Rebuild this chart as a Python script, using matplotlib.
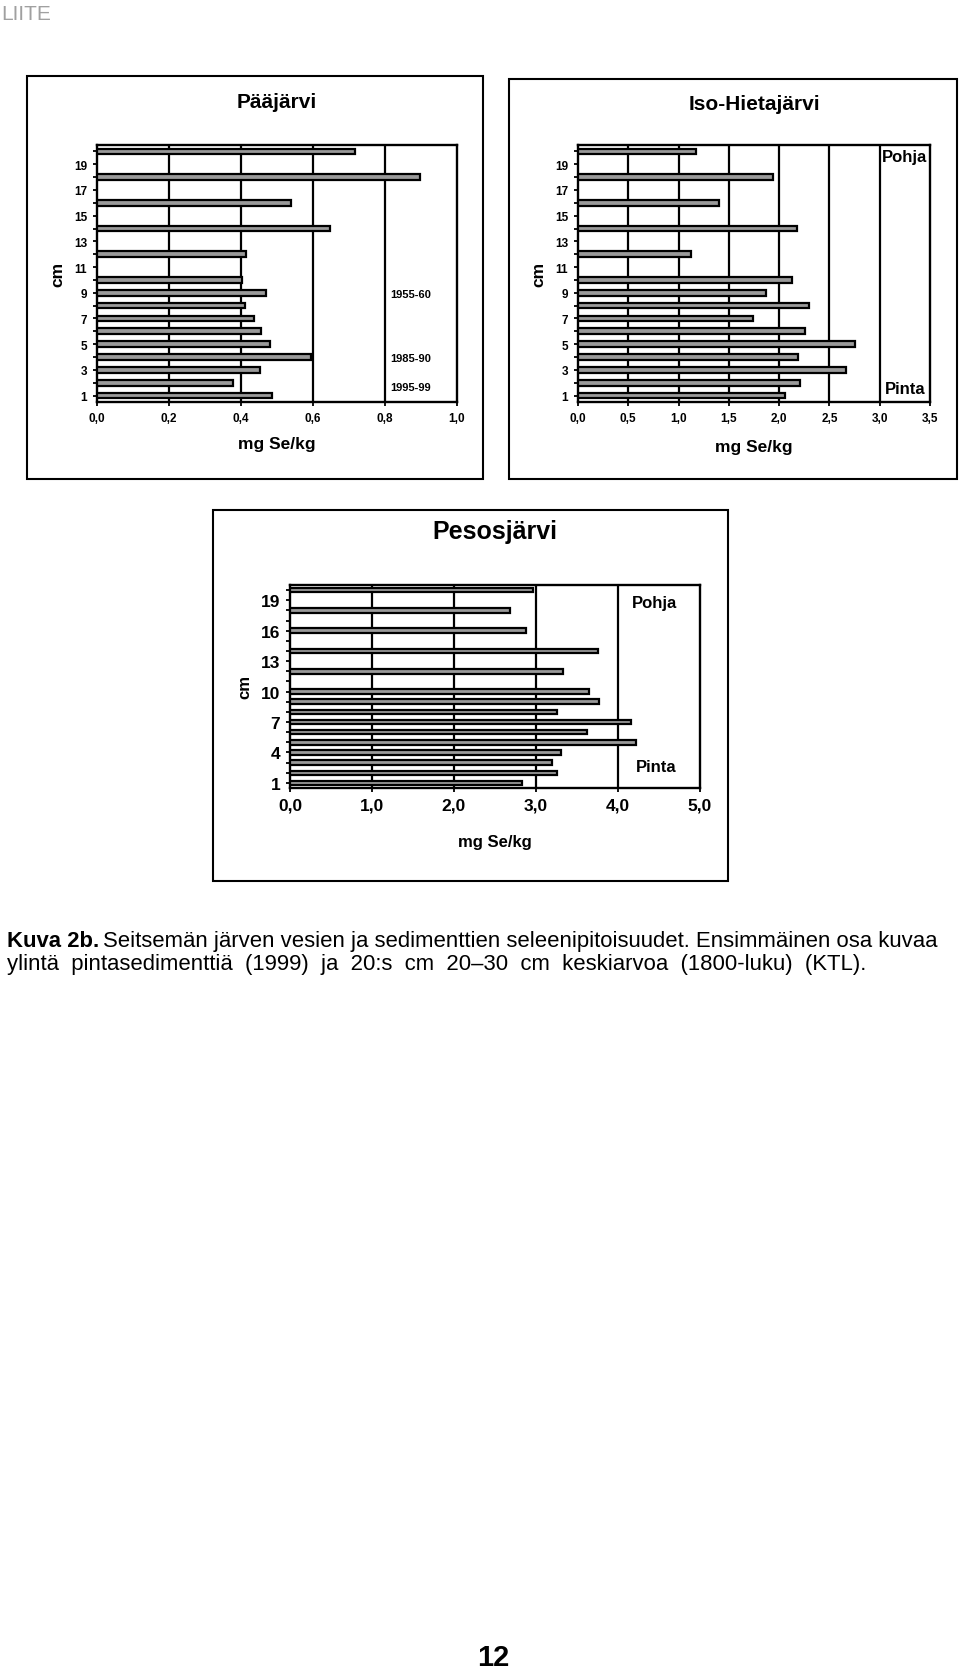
import matplotlib
matplotlib.use("Agg")
import matplotlib.pyplot as plt
from matplotlib.patches import Rectangle

# depth (cm) of each sample, same for all three lakes
depth = [1, 2, 3, 4, 5, 6, 7, 8, 9, 10, 12, 14, 16, 18, 20]

# mg Se/kg
paajarvi = [0.486, 0.377, 0.454, 0.594, 0.481, 0.456, 0.435, 0.41, 0.469, 0.403,
            0.414, 0.646, 0.539, 0.898, 0.717]
isohieta = [2.06, 2.21, 2.66, 2.19, 2.755, 2.26, 1.745, 2.30, 1.87, 2.13,
            1.12, 2.18, 1.40, 1.94, 1.17]
pesos = [2.83, 3.25, 3.20, 3.30, 4.22, 3.62, 4.16, 3.25, 3.77, 3.65,
         3.33, 3.76, 2.88, 2.68, 2.96]

plt.rcParams['font.family'] = ['Liberation Sans', 'DejaVu Sans']

W, H = 960, 1674
fig = plt.figure(figsize=(W / 100, H / 100), dpi=100)


def px_axes(x0, y0, x1, y1):
    return fig.add_axes([x0 / W, 1 - y1 / H, (x1 - x0) / W, (y1 - y0) / H])


def frame(x0, y0, x1, y1):
    fig.patches.append(Rectangle((x0 / W, 1 - y1 / H), (x1 - x0) / W, (y1 - y0) / H,
                                 transform=fig.transFigure, fill=False,
                                 edgecolor='black', linewidth=1.5))


def panel(box, area, title, title_y, titlefs, values, xmax, xstep, ystep, tickfs, lblfs, xlabel_y):
    frame(*box)
    ax = px_axes(*area)
    ax.barh(depth, values, height=0.44, color='#9a9a9a', edgecolor='black', linewidth=1.6, zorder=3)
    ax.set_xlim(0, xmax)
    ax.set_ylim(0.5, 20.5)
    xt = [round(i * xstep, 2) for i in range(int(round(xmax / xstep)) + 1)]
    ax.set_xticks(xt)
    ax.set_xticklabels([f"{v:.1f}".replace('.', ',') for v in xt], fontsize=tickfs, fontweight='bold')
    for v in xt[1:-1]:
        ax.axvline(v, color='black', linewidth=1.6, zorder=1)
    ax.set_yticks(list(range(1, 21, ystep)))
    ax.set_yticklabels([str(v) for v in range(1, 21, ystep)], fontsize=tickfs, fontweight='bold')
    ax.set_yticks(range(1, 21), minor=True)
    ax.tick_params(axis='both', which='both', direction='out', length=3, width=1.3, pad=4)
    for s in ax.spines.values():
        s.set_linewidth(1.7)
    ax.set_ylabel('cm', fontsize=lblfs, fontweight='bold', labelpad=6)
    fig.text((area[0] + area[2]) / 2 / W, 1 - title_y / H, title, ha='center', va='center',
             fontsize=titlefs, fontweight='bold')
    fig.text((area[0] + area[2]) / 2 / W, 1 - xlabel_y / H, 'mg Se/kg', ha='center', va='center',
             fontsize=lblfs, fontweight='bold')
    return ax


ax1 = panel((27, 77, 483, 480), (97, 146, 457, 403), 'Pääjärvi', 103, 15, paajarvi, 1.0, 0.2, 2,
            8.5, 12.5, 445)
for yy, lab in [(8.9, '1955-60'), (3.9, '1985-90'), (1.7, '1995-99')]:
    ax1.text(0.87, yy, lab, ha='center', va='center', fontsize=8, fontweight='bold')

ax2 = panel((509, 80, 957, 480), (578, 146, 930, 403), 'Iso-Hietajärvi', 104, 15, isohieta, 3.5, 0.5, 2,
            8.5, 12.5, 448)
ax2.text(3.25, 19.6, 'Pohja', ha='center', va='center', fontsize=12, fontweight='bold')
ax2.text(3.25, 1.55, 'Pinta', ha='center', va='center', fontsize=12, fontweight='bold')

ax3 = panel((213, 511, 728, 882), (290, 586, 700, 789), 'Pesosjärvi', 532, 18, pesos, 5.0, 1.0, 3,
            12.5, 12, 843)
ax3.text(4.45, 18.8, 'Pohja', ha='center', va='center', fontsize=12, fontweight='bold')
ax3.text(4.47, 2.6, 'Pinta', ha='center', va='center', fontsize=12, fontweight='bold')

# page decorations
fig.text(1 / W, 1 - 15 / H, 'LIITE', ha='left', va='center', fontsize=15, color='#a0a0a0')

cap_fs = 15.9
bold = fig.text(7 / W, 1 - 942 / H, 'Kuva 2b.', ha='left', va='center', fontsize=cap_fs,
                fontweight='bold')
fig.canvas.draw()
bx = bold.get_window_extent().x1
fig.text((bx + 4) / W, 1 - 942 / H, 'Seitsemän järven vesien ja sedimenttien seleenipitoisuudet. '
         'Ensimmäinen osa kuvaa', ha='left', va='center', fontsize=cap_fs)
fig.text(7 / W, 1 - 965 / H, 'ylintä  pintasedimenttiä  (1999)  ja  20:s  cm  20–30  cm  keskiarvoa  '
         '(1800-luku)  (KTL).', ha='left', va='center', fontsize=cap_fs)
fig.text(493 / W, 1 - 1658 / H, '12', ha='center', va='center', fontsize=21, fontweight='bold')

fig.savefig('out.png', dpi=100)
